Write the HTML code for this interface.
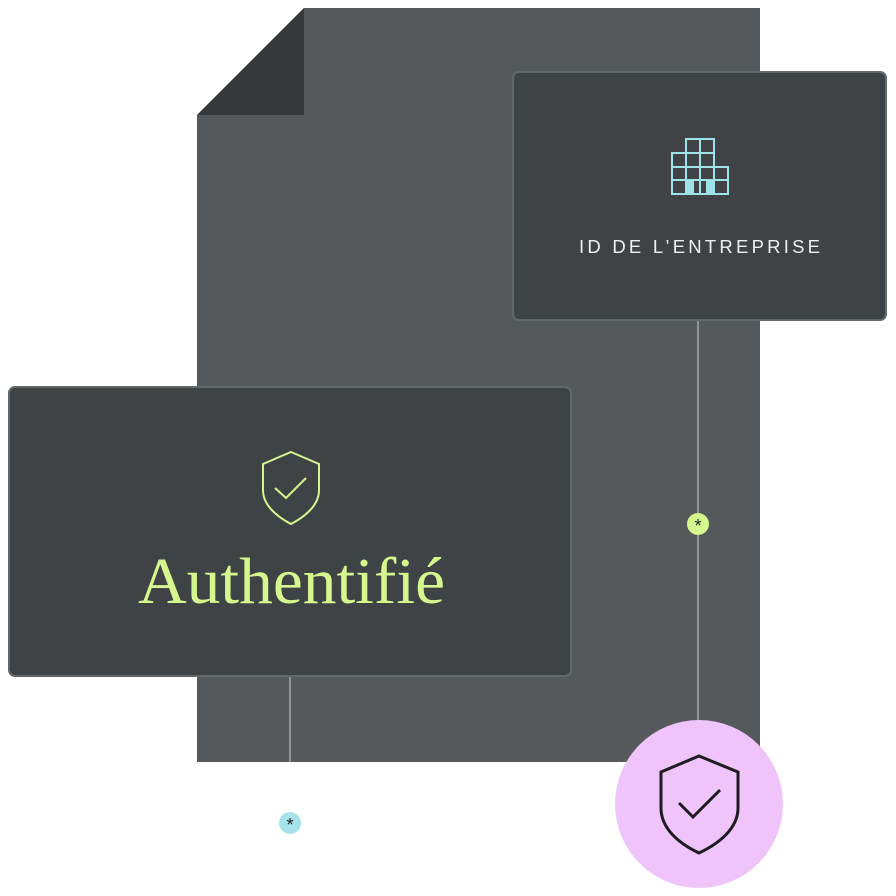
<!DOCTYPE html>
<html><head><meta charset="utf-8"><style>
html,body{margin:0;padding:0;background:#fff;}
svg{display:block;}
</style></head><body>
<svg width="896" height="896" viewBox="0 0 896 896" xmlns="http://www.w3.org/2000/svg">
<polygon points="304,8 760,8 760,762 197,762 197,115" fill="#55595b"/>
<polygon points="304,8 304,115 197,115" fill="#363a3d"/>
<line x1="698" y1="321" x2="698" y2="730" stroke="#b8bcbd" stroke-width="1.2"/>
<line x1="290" y1="677" x2="290" y2="762" stroke="#b8bcbd" stroke-width="1.2"/>
<rect x="513" y="72" width="373" height="248" rx="6" fill="#404346" stroke="#63686a" stroke-width="2"/>
<g fill="none" stroke="#9fe3ea" stroke-width="2">
<rect x="686" y="139" width="28" height="28"/>
<line x1="700" y1="139" x2="700" y2="194"/>
<line x1="686" y1="153" x2="714" y2="153"/>
<rect x="672" y="153" width="14" height="41"/>
<rect x="714" y="167" width="14" height="27"/>
<line x1="672" y1="167" x2="728" y2="167"/>
<line x1="672" y1="180" x2="728" y2="180"/>
<line x1="672" y1="194" x2="728" y2="194"/>
<line x1="686" y1="167" x2="686" y2="194"/>
<line x1="714" y1="167" x2="714" y2="194"/>
</g>
<rect x="686" y="180" width="8" height="14" fill="#9fe3ea"/>
<rect x="706" y="180" width="8" height="14" fill="#9fe3ea"/>
<text x="579" y="253" textLength="241" lengthAdjust="spacing" font-family="Liberation Sans, sans-serif" font-size="18.5" fill="#eef0f0">ID DE L’ENTREPRISE</text>
<rect x="9" y="387" width="562" height="289" rx="6" fill="#404346" stroke="#63686a" stroke-width="2"/>
<path d="M291 452 L319 464 V490 C319 505 306 516 291 524 C276 516 263 505 263 490 V464 Z" fill="none" stroke="#d6f68e" stroke-width="2"/>
<path d="M275 488 L286 498 L306 478" fill="none" stroke="#d6f68e" stroke-width="2"/>
<text x="138" y="603" textLength="307" lengthAdjust="spacingAndGlyphs" font-family="Liberation Serif, serif" font-size="66" fill="#d6f68e">Authentifié</text>
<circle cx="698" cy="524" r="11" fill="#d6f68e"/>
<text x="698" y="532" text-anchor="middle" font-family="Liberation Sans, sans-serif" font-size="18" fill="#222">*</text>
<circle cx="290" cy="823" r="11" fill="#a6e2ea"/>
<text x="290" y="831" text-anchor="middle" font-family="Liberation Sans, sans-serif" font-size="18" fill="#222">*</text>
<circle cx="699" cy="804" r="84" fill="#efc4fb"/>
<path d="M699 756 L738 772 V808 C738 828 720 843 699 853 C678 843 661 828 661 808 V772 Z" fill="none" stroke="#1e1c20" stroke-width="3"/>
<path d="M679 803 L693 817 L720 790" fill="none" stroke="#1e1c20" stroke-width="3"/>
</svg>
</body></html>
